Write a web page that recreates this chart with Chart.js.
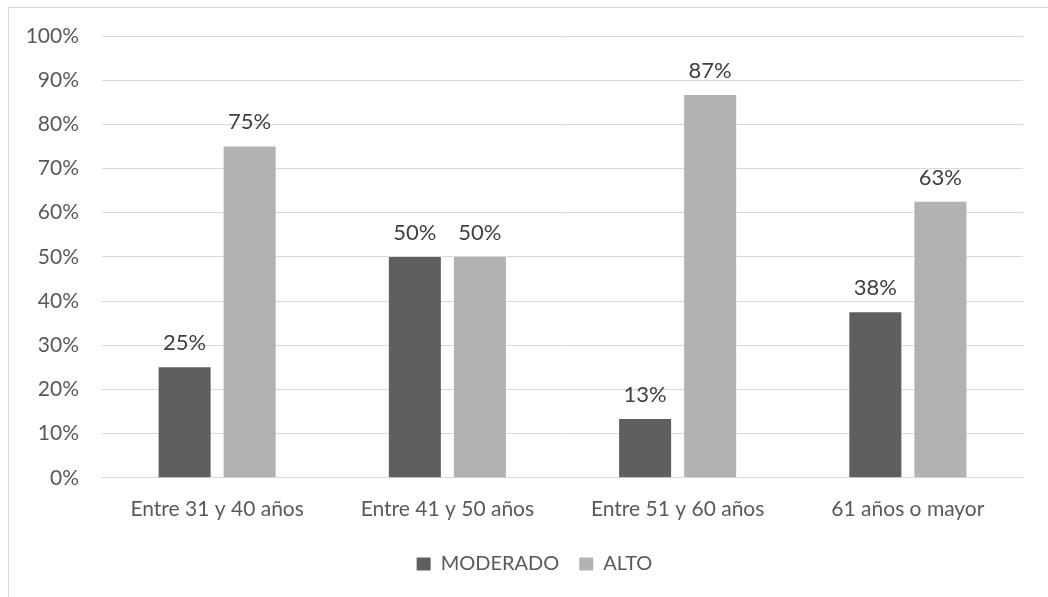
<!DOCTYPE html>
<html>
<head>
<meta charset="utf-8">
<script src="https://cdn.jsdelivr.net/npm/chart.js@4"></script>
<style>
html,body{margin:0;padding:0;background:#fff;overflow:hidden;width:1048px;height:597px;}
#frame{position:absolute;left:8px;top:7px;width:1100px;height:700px;border:1px solid #d9d9d9;}
#wrap{position:absolute;left:0;top:0;width:1048px;height:597px;}
</style>
</head>
<body>
<div id="frame"></div>
<div id="wrap"><canvas id="c" width="1048" height="597"></canvas></div>
<script>
const categories = ["Entre 31 y 40 años", "Entre 41 y 50 años", "Entre 51 y 60 años", "61 años o mayor"];
const seriesNames = ["MODERADO", "ALTO"];
const moderado = [25, 50, 13.33, 37.5];
const alto = [75, 50, 86.67, 62.5];
const yTicks = [0,10,20,30,40,50,60,70,80,90,100];

const FONT = "Lato, 'Liberation Sans', sans-serif";
const TXT = "#595959";

const labelPlugin = {
  id: 'valLabels',
  afterLayout(chart) {
    const lg = chart.legend;
    if (lg) { lg.left += 46; lg.top -= 7; lg.bottom -= 7; }
  },
  afterDatasetsDraw(chart) {
    const ctx = chart.ctx;
    ctx.save();
    ctx.font = "22px " + FONT;
    ctx.fillStyle = "#404040";
    ctx.textAlign = "center";
    ctx.textBaseline = "alphabetic";
    chart.data.datasets.forEach((ds, i) => {
      const meta = chart.getDatasetMeta(i);
      meta.data.forEach((el, j) => {
        ctx.fillText(Math.round(ds.data[j]) + "%", el.x, el.y - 17);
      });
    });
    ctx.restore();
  }
};

new Chart(document.getElementById('c'), {
  type: 'bar',
  data: {
    labels: categories,
    datasets: [
      {label: seriesNames[0], data: moderado, backgroundColor: "#5f5f5f", borderWidth: 0},
      {label: seriesNames[1], data: alto, backgroundColor: "#b2b2b2", borderWidth: 0}
    ]
  },
  options: {
    responsive: false,
    animation: false,
    devicePixelRatio: 1,
    layout: {padding: {left: 0, right: 25, top: 36, bottom: 6}},
    datasets: {bar: {categoryPercentage: 0.565, barPercentage: 0.8}},
    plugins: {
      legend: {
        position: 'bottom',
        labels: {font: {family: FONT, size: 20}, color: TXT, boxWidth: 14, boxHeight: 13, padding: 20}
      },
      tooltip: {enabled: false}
    },
    scales: {
      x: {
        grid: {display: false, drawTicks: false},
        border: {display: true, color: "#d9d9d9", width: 1},
        ticks: {font: {family: FONT, size: 21}, color: TXT, padding: 19}
      },
      y: {
        min: 0, max: 100,
        afterFit(s){ s.width = 102; },
        afterBuildTicks(s){ s.ticks = yTicks.map(v => ({value: v})); },
        grid: {color: "#d9d9d9", drawTicks: false, lineWidth: 1},
        border: {display: false},
        ticks: {font: {family: FONT, size: 21}, color: TXT, padding: 23, callback: v => v + "%"}
      }
    }
  },
  plugins: [labelPlugin]
});
</script>
</body>
</html>
